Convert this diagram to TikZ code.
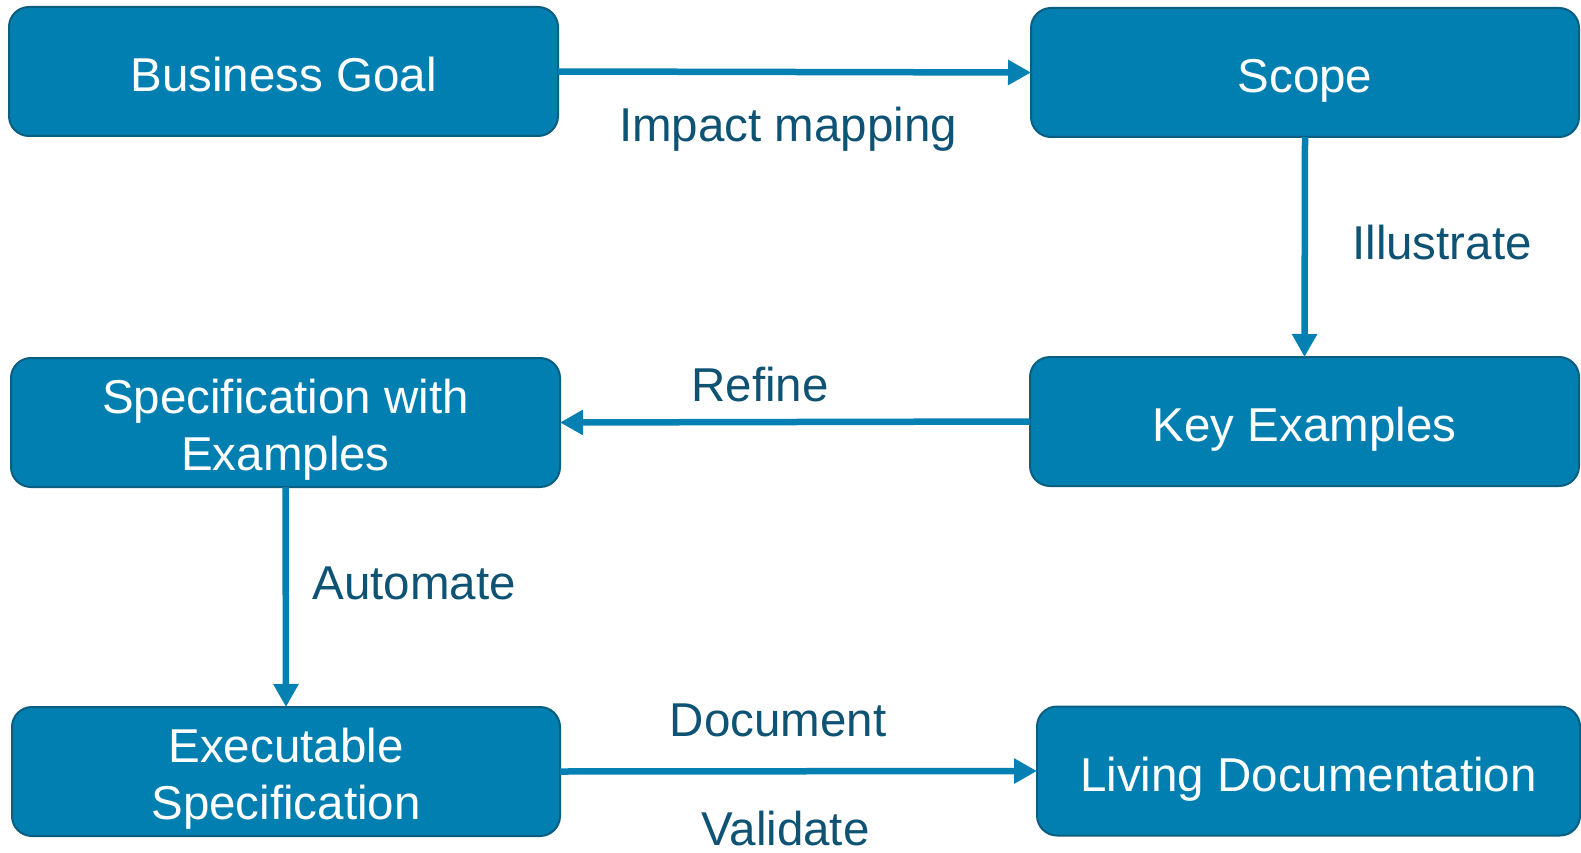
\documentclass[tikz,border=0pt]{standalone}
\usepackage{fontspec}
\setmainfont{Liberation Sans}
\usetikzlibrary{arrows.meta}
\definecolor{boxfill}{RGB}{2,127,177}
\definecolor{boxline}{RGB}{10,94,128}
\definecolor{labelcol}{RGB}{14,82,116}
\definecolor{arrowcol}{RGB}{4,128,178}
\tikzset{
  box/.style={draw=boxline, line width=2pt, fill=boxfill, rounded corners=20pt,
    text=white, font=\fontsize{47.5}{57}\selectfont, align=center,
    inner sep=0pt, outer sep=0pt, minimum height=129pt},
  oneline/.style={text height=40pt, text depth=0pt},
  twoline/.style={text height=95pt, text depth=0pt},
  flow/.style={draw=arrowcol, line width=6.5pt, -{Triangle[length=23pt,width=24pt]}},
  lbl/.style={text=labelcol, font=\fontsize{47.5}{57}\selectfont, inner sep=0pt, anchor=base}
}
\begin{document}
\begin{tikzpicture}[x=1pt,y=-1pt]
\useasboundingbox (0,0) rectangle (1581,853);
\node[box, oneline, minimum width=549pt] (bg) at (283.5,71.5) {Business Goal};
\node[box, oneline, minimum width=548pt] (scope) at (1305,72.5) {Scope};
\node[box, twoline, minimum width=549pt] (spec) at (285.5,422.5) {Specification with\\Examples};
\node[box, oneline, minimum width=549pt] (key) at (1304.5,421.5) {Key Examples};
\node[box, twoline, minimum width=548pt] (exec) at (286,771.5) {Executable\\Specification};
\node[box, oneline, minimum width=543pt] (living) at (1308.5,771) {Living Documentation};
\draw[flow] (bg.east) -- (scope.west);
\draw[flow] (scope.south) -- (key.north);
\draw[flow] (key.west) -- (spec.east);
\draw[flow] (spec.south) -- (exec.north);
\draw[flow] (exec.east) -- (living.west);
\node[lbl] (l1) at (788,142) {Impact mapping};
\node[lbl] (l2) at (1442,259) {Illustrate};
\node[lbl] (l3) at (760,401) {Refine};
\node[lbl] (l4) at (414,599) {Automate};
\node[lbl] (l5) at (778,736) {Document};
\node[lbl] (l6) at (785.5,845) {Validate};
\end{tikzpicture}
\end{document}
